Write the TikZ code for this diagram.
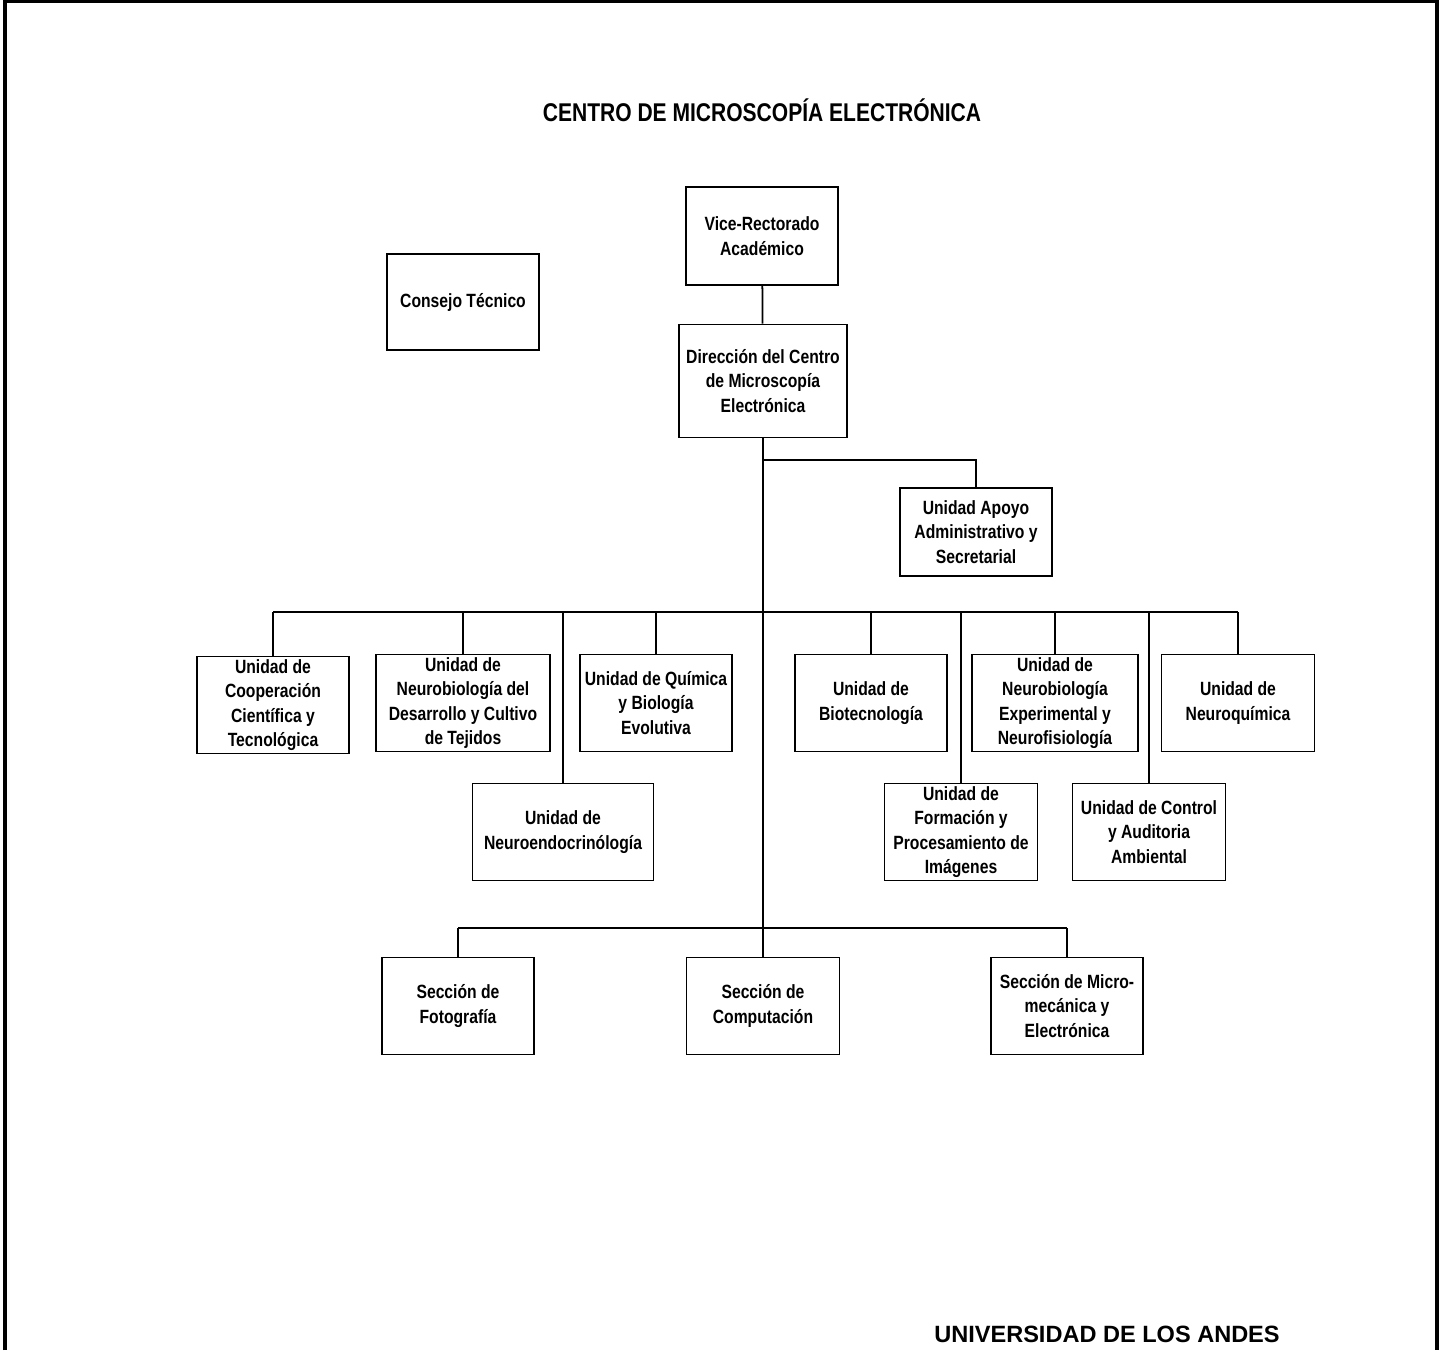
\documentclass[tikz,border=0pt]{standalone}
\usepackage{fontspec}
\setmainfont{Liberation Sans}
\newfontfamily\narrowfont[FakeStretch=0.82]{Liberation Sans}
\usepackage{tikz}
\usepackage{xcolor}

\tikzset{
  caja/.style={draw, line width=1pt, align=center, inner sep=0pt,
    minimum width=3.04cm, minimum height=1.94cm,
    font=\narrowfont\bfseries\fontsize{10.9}{13.9}\selectfont},
  linea/.style={line width=1pt},
  marco/.style={line width=2pt}
}

\begin{document}
\begin{tikzpicture}[x=0.02cm, y=-0.02cm]
    \useasboundingbox (0,0) rectangle (1442,1350);

    % frame
    \draw[marco] (5,1350) -- (5,1) -- (1437,1) -- (1437,1350);

    % titles
    \node[anchor=base, font=\narrowfont\bfseries\fontsize{14.6}{17}\selectfont] (titulo) at (762,121) {CENTRO DE MICROSCOPÍA ELECTRÓNICA};
    \node[anchor=base, font=\bfseries\fontsize{13.4}{16}\selectfont] (ula) at (1107,1342) {UNIVERSIDAD DE LOS ANDES};

    % top
    \node[caja, minimum height=1.96cm] (vice) at (762,236) {Vice-Rectorado\\Académico};
    \node[caja, minimum height=1.92cm] (consejo) at (463,302) {Consejo Técnico};
    \node[caja, minimum width=3.36cm, minimum height=2.26cm] (dir) at (763,381) {Dirección del Centro\\de Microscopía\\Electrónica};
    \node[caja, minimum height=1.76cm] (apoyo) at (976,532) {Unidad Apoyo\\Administrativo y\\Secretarial};

    % units, first row
    \node[caja] (coop) at (273,705) {Unidad de\\Cooperación\\Científica y\\Tecnológica};
    \node[caja, minimum width=3.48cm] (neurodes) at (463,703) {Unidad de\\Neurobiología del\\Desarrollo y Cultivo\\de Tejidos};
    \node[caja] (quim) at (656,703) {Unidad de Química\\y Biología\\Evolutiva};
    \node[caja] (biotec) at (871,703) {Unidad de\\Biotecnología};
    \node[caja, minimum width=3.32cm] (neuroexp) at (1055,703) {Unidad de\\Neurobiología\\Experimental y\\Neurofisiología};
    \node[caja, minimum width=3.06cm] (neuroq) at (1238,703) {Unidad de\\Neuroquímica};

    % units, second row
    \node[caja, minimum width=3.62cm] (neuroendo) at (563,832) {Unidad de\\Neuroendocrinólogía};
    \node[caja, minimum width=3.06cm] (form) at (961,832) {Unidad de\\Formación y\\Procesamiento de\\Imágenes};
    \node[caja, minimum width=3.06cm] (control) at (1149,832) {Unidad de Control\\y Auditoria\\Ambiental};

    % sections
    \node[caja] (foto) at (458,1006) {Sección de\\Fotografía};
    \node[caja, minimum width=3.06cm] (comp) at (763,1006) {Sección de\\Computación};
    \node[caja] (micro) at (1067,1006) {Sección de Micro-\\mecánica y\\Electrónica};

    % connectors
    \coordinate (b0) at (763,460);
    \coordinate (b1) at (763,612);
    \coordinate (b2) at (763,928);
    \draw[linea] (vice) -- (dir);
    \draw[linea] (dir.south) -- (b2);
    \draw[linea] (b0) -| (apoyo.north);
    \draw[linea] (b1 -| coop.north) -- (b1 -| neuroq.north);
    \foreach \u in {coop,neurodes,quim,biotec,neuroexp,neuroq,neuroendo,form,control}
        \draw[linea] (b1 -| \u.north) -- (\u.north);
    \draw[linea] (b2 -| foto.north) -- (b2 -| micro.north);
    \foreach \s in {foto,comp,micro}
        \draw[linea] (b2 -| \s.north) -- (\s.north);
\end{tikzpicture}
\end{document}
